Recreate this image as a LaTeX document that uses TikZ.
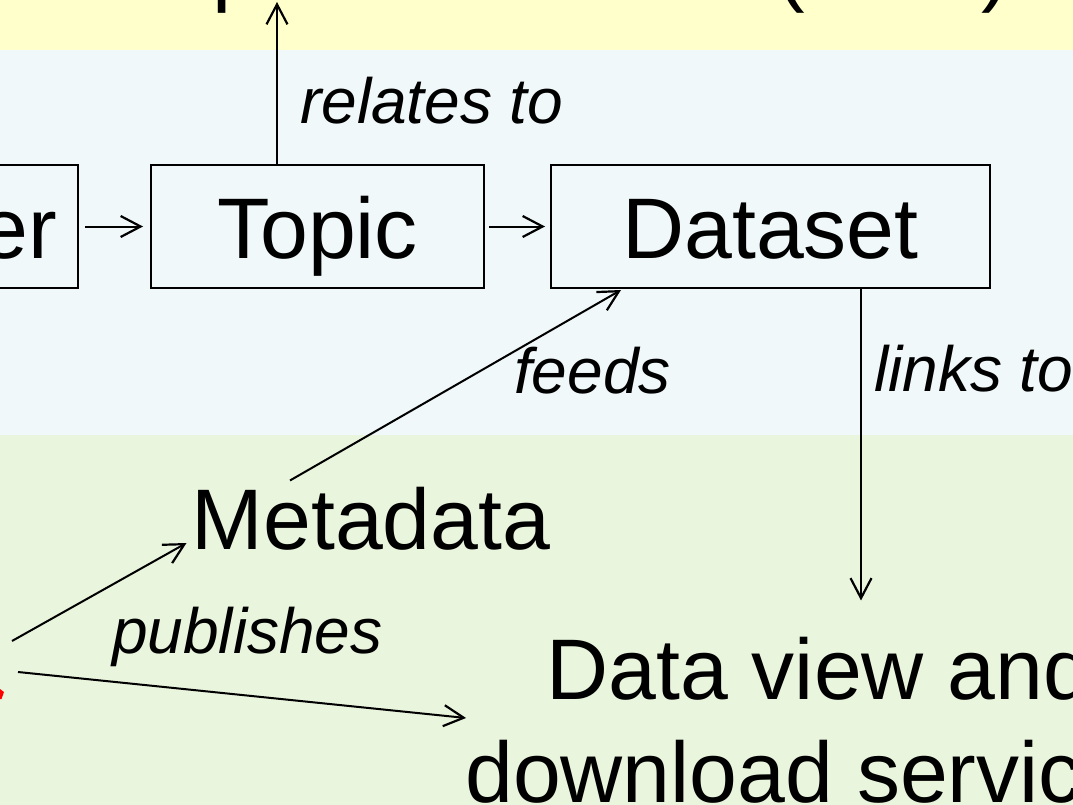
\documentclass[tikz,border=0pt]{standalone}
\usepackage{fontspec}
\setmainfont{Liberation Sans}
\usetikzlibrary{arrows.meta,calc}
\definecolor{bandY}{HTML}{FFFFCC}
\definecolor{bandB}{HTML}{F0F8FA}
\definecolor{bandG}{HTML}{E9F5DD}
\newcommand\dgbig{\fontsize{86}{103}\selectfont}
\newcommand\dglbl{\fontsize{64}{75}\selectfont\itshape}
\begin{document}
\begin{tikzpicture}[x=1pt,y=-1pt,
  box/.style={draw, line width=2pt, inner sep=0pt, minimum height=123pt,
    font=\dgbig, text height=63pt, text depth=0pt},
  arr/.style={line width=2pt, -{Straight Barb[length=20pt,width=21pt,line width=2.2pt]}},
  big/.style={font=\dgbig, inner sep=0pt},
  lbl/.style={font=\dglbl, inner sep=0pt, anchor=base west}]
\useasboundingbox (0,0) rectangle (1073,805);
\clip (0,0) rectangle (1073,805);
% bands
\fill[bandY] (0,0) rectangle (1073,50);
\fill[bandB] (0,50) rectangle (1073,435);
\fill[bandG] (0,435) rectangle (1073,805);
% top layer title (mostly outside the picture)
\node[big, anchor=base west] (layer) at (155,-4) {Spatial Themes (RDF)};
% boxes
\node[box, minimum width=378pt] (prov) at (-111,226.5) {};
\node[big, anchor=base east] (provtxt) at (57,258) {er};
\node[box, minimum width=333pt] (topic) at (317.5,226.5) {Topic};
\node[box, minimum width=439pt] (dataset) at (770.5,226.5) {Dataset};
% free texts
\node[big, anchor=base, inner sep=8pt] (meta) at (371,549) {Metadata};
\node[big, anchor=base, align=center, inner ysep=36pt, inner xsep=0pt] (dv) at (819,802) {Data view and\\download services};
% labels
\node[lbl] (relates) at (300,124) {relates to};
\node[lbl] (feeds) at (514,393) {feeds};
\node[lbl] (links) at (874,391) {links to};
\node[lbl] (pub) at (112,653) {publishes};
% coordinates
\coordinate (upEnd) at (277,2);
\coordinate (linkx) at (861,0);
\coordinate (src1) at (12,641);
\coordinate (src2) at (18,672);
% connectors
\draw[arr] (topic.north -| upEnd) -- (upEnd);
\draw[arr, shorten <=6pt, shorten >=7pt] (prov.east) -- (topic.west);
\draw[arr, shorten <=4pt, shorten >=5pt] (topic.east) -- (dataset.west);
\draw[arr] ($(meta.north)+(-81,2)$) -- ($(dataset.south west)+(71,1)$);
\draw[arr] (dataset.south -| linkx) -- (dv.north -| linkx);
\draw[arr] (src1) -- ($(meta.base west)+(3,-6)$);
\draw[arr] (src2) -- ($(dv.base west)+(1,-84)$);
% red fragment at left edge
\fill[red] (0,689) -- (4,692) -- (1.5,699) -- (0,699) -- cycle;
\end{tikzpicture}
\end{document}
